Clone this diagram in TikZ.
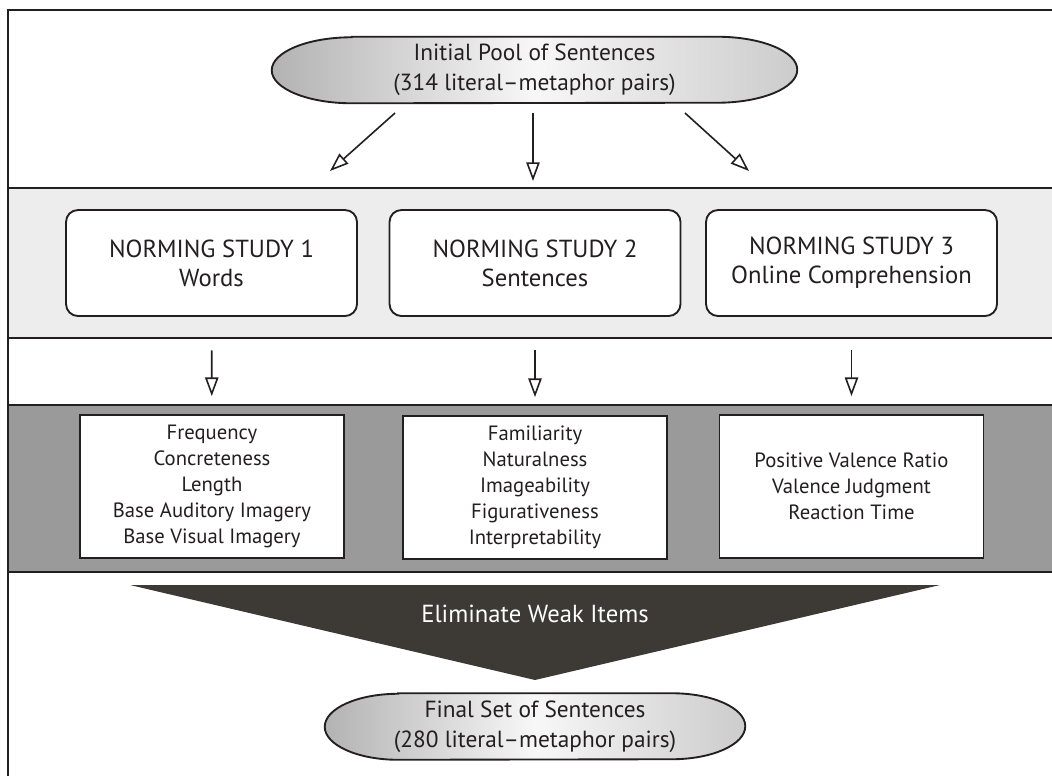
\documentclass[tikz,border=0pt]{standalone}
\usepackage{fontspec}
\setmainfont{PT Sans}
\usetikzlibrary{arrows.meta,backgrounds}

\definecolor{lightband}{HTML}{EDEDED}
\definecolor{darkband}{HTML}{9A9A9A}
\definecolor{funnel}{HTML}{3D3935}
\definecolor{ink}{HTML}{231F20}

\tikzset{
  rule/.style={draw=ink, line width=1.5pt},
  pill/.style={draw=ink, line width=1.4pt, left color=black!30, right color=black!20, middle color=black!3},
  pilltext/.style={minimum height=49.5pt, inner sep=0pt, align=center, text=ink,
    font=\fontsize{17.5}{22.5}\selectfont},
  studybox/.style={draw=ink, line width=1.4pt, rounded corners=9pt, fill=white, text=ink,
    minimum width=218.25pt, minimum height=79.5pt, align=center, font=\fontsize{18.5}{21.75}\selectfont},
  propbox/.style={draw=ink, line width=1.4pt, fill=white, text=ink,
    minimum width=198pt, minimum height=107.25pt, align=center, font=\fontsize{15.5}{19.5}\selectfont},
  flow/.style={draw=ink, line width=1.2pt, -{Triangle[open, length=14pt, width=10pt]}}
}

\begin{document}
\begin{tikzpicture}[x=0.75pt, y=-0.75pt]
\useasboundingbox (0,0) rectangle (1052,776);

% bands and frame
\fill[lightband] (8,188) rectangle (1052,338);
\fill[darkband] (8,405) rectangle (1052,572);
\draw[rule] (1052,10) -- (8,10) -- (8,776);
\foreach \y in {188,338,405,572}
  \draw[rule] (8,\y) -- (1052,\y);

% start and end sets
\node[pilltext, minimum width=393.75pt] (pool) at (534.5,70) {Initial Pool of Sentences\\(314 literal\textendash metaphor pairs)};
\node[pilltext, minimum width=315pt] (final) at (535,726.5) {Final Set of Sentences\\(280 literal\textendash metaphor pairs)};

\begin{scope}[on background layer]
\foreach \n/\r in {pool/60pt, final/55pt}
  \draw[pill] ([xshift=\r]\n.north west) -- ([xshift=-\r]\n.north east)
    arc[start angle=90, end angle=-90, x radius=\r, y radius=24.75pt]
    -- ([xshift=\r]\n.south west)
    arc[start angle=270, end angle=90, x radius=\r, y radius=24.75pt] -- cycle;
\end{scope}

% norming studies
\node[studybox] (study1) at (211.5,263) {NORMING STUDY 1\\Words};
\node[studybox] (study2) at (535,263) {NORMING STUDY 2\\Sentences};
\node[studybox] (study3) at (851.5,263) {NORMING STUDY 3\\Online Comprehension};

% measures
\node[propbox] (props1) at (212,486.5) {Frequency\\Concreteness\\Length\\Base Auditory Imagery\\Base Visual Imagery};
\node[propbox] (props2) at (535,487.5) {Familiarity\\Naturalness\\Imageability\\Figurativeness\\Interpretability};
\node[propbox] (props3) at (851.5,486.5) {Positive Valence Ratio\\Valence Judgment\\Reaction Time};

% funnel
\fill[funnel] (130,585) -- (940,585) -- (535,680) -- cycle;
\node[text=white, font=\fontsize{18.5}{22}\selectfont] (elim) at (535,614) {Eliminate Weak Items};

% arrows
\coordinate (out1) at (395,113);
\coordinate (in1) at (330,171);
\coordinate (out2) at (533,113);
\coordinate (in2) at (533,181);
\coordinate (out3) at (685,113);
\coordinate (in3) at (749,171);
\foreach \i in {1,2,3}
  \draw[flow] (out\i) -- (in\i);
\foreach \i in {1,2,3}
  \draw[flow, shorten <=25pt, shorten >=13.5pt] (study\i) -- (props\i);

\end{tikzpicture}
\end{document}
